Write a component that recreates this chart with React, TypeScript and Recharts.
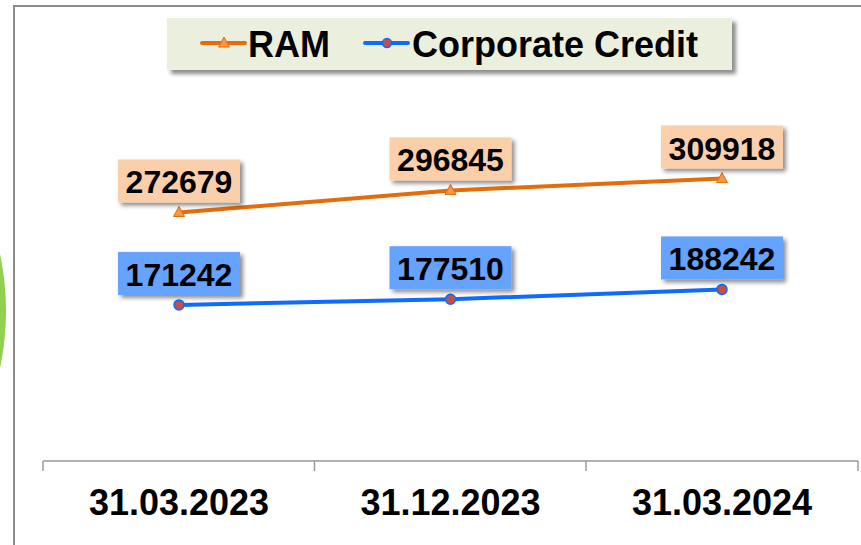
import { LineChart, Line, XAxis, YAxis, LabelList } from "recharts";

const dates = ["31.03.2023", "31.12.2023", "31.03.2024"];
const ramValues = [272679, 296845, 309918];
const corporateValues = [171242, 177510, 188242];
const seriesNames = ["RAM", "Corporate Credit"];

const data = dates.map((d, i) => ({ date: d, ram: ramValues[i], corp: corporateValues[i] }));

const FONT = '"Liberation Sans", Arial, sans-serif';
const ORANGE = "#e46c0a";
const BLUE = "#0f6bff";
const HALF_BAND = 136;

const makeLabel = (fill: string) => (props: any) => {
  const { x, y, value, index } = props;
  return (
    <g key={index}>
      <rect x={x - 61} y={y - 53} width={122} height={43} fill={fill} filter="url(#boxShadow)" />
      <text x={x} y={y - 19} textAnchor="middle" fontSize={32} fontWeight="bold" fontFamily={FONT} fill="#000">
        {value}
      </text>
    </g>
  );
};

const TriangleDot = (props: any) => {
  const { cx, cy, index } = props;
  return (
    <path
      key={index}
      d={`M${cx},${cy - 6} L${cx + 5.5},${cy + 4} L${cx - 5.5},${cy + 4} Z`}
      fill="#f79646"
      stroke={ORANGE}
      strokeWidth={1}
    />
  );
};

const CircleDot = (props: any) => {
  const { cx, cy, index } = props;
  return <circle key={index} cx={cx} cy={cy} r={5} fill="#c0504d" stroke={BLUE} strokeWidth={1.5} />;
};

const DateTick = (props: any) => {
  const { x, y, payload, index } = props;
  const last = index === dates.length - 1;
  return (
    <g>
      <line x1={x - HALF_BAND} y1={y} x2={x - HALF_BAND} y2={y + 10} stroke="#999" strokeWidth={1.5} />
      {last && <line x1={x + HALF_BAND} y1={y} x2={x + HALF_BAND} y2={y + 10} stroke="#999" strokeWidth={1.5} />}
      <text x={x} y={y + 54} textAnchor="middle" fontSize={36} fontWeight="bold" fontFamily={FONT} fill="#000">
        {payload.value}
      </text>
    </g>
  );
};

function LegendBox() {
  return (
    <svg
      width={565}
      height={52}
      style={{
        position: "absolute",
        left: 167,
        top: 18,
        background: "#ebf0de",
        boxShadow: "4px 4px 4px rgba(0,0,0,0.45)",
      }}
    >
      <line x1={35} y1={25} x2={78} y2={25} stroke={ORANGE} strokeWidth={4} strokeLinecap="round" />
      <path d="M57,19 L62.5,29 L51.5,29 Z" fill="#f79646" stroke={ORANGE} strokeWidth={1} />
      <text x={81} y={39} fontSize={36} fontWeight="bold" fontFamily={FONT} fill="#000">
        {seriesNames[0]}
      </text>
      <line x1={198} y1={25} x2={241} y2={25} stroke={BLUE} strokeWidth={4} strokeLinecap="round" />
      <circle cx={220} cy={25} r={4.5} fill="#c0504d" stroke={BLUE} strokeWidth={1.5} />
      <text x={245} y={39} fontSize={36} fontWeight="bold" fontFamily={FONT} fill="#000">
        {seriesNames[1]}
      </text>
    </svg>
  );
}

export default function App() {
  return (
    <div style={{ position: "absolute", left: 0, top: 0, width: 861, height: 545, overflow: "hidden", background: "#fff" }}>
      <div style={{ position: "absolute", left: -542, top: 37, width: 548, height: 548, borderRadius: "50%", background: "#92d050" }} />
      <div
        style={{
          position: "absolute",
          left: 13,
          top: 5,
          width: 900,
          height: 600,
          borderLeft: "2px solid #8c8c8c",
          borderTop: "2px solid #8c8c8c",
          background: "#fff",
        }}
      />
      <div style={{ position: "absolute", left: 0, top: 0 }}>
        <LineChart width={861} height={545} data={data} margin={{ top: 142, right: 3, left: 43, bottom: 24 }}>
          <defs>
            <filter id="boxShadow" x="-20%" y="-20%" width="150%" height="160%">
              <feDropShadow dx={3} dy={3} stdDeviation={2} floodColor="#000" floodOpacity={0.45} />
            </filter>
          </defs>
          <XAxis
            dataKey="date"
            padding={{ left: HALF_BAND, right: HALF_BAND }}
            axisLine={{ stroke: "#999", strokeWidth: 1.5 }}
            tickLine={false}
            tickSize={0}
            tickMargin={0}
            height={60}
            tick={<DateTick />}
            interval={0}
          />
          <YAxis hide domain={[0, 350000]} />
          <Line
            dataKey="ram"
            name={seriesNames[0]}
            stroke={ORANGE}
            strokeWidth={4}
            dot={TriangleDot}
            activeDot={false}
            isAnimationActive={false}
          >
            <LabelList dataKey="ram" content={makeLabel("#fbcfa9")} />
          </Line>
          <Line
            dataKey="corp"
            name={seriesNames[1]}
            stroke={BLUE}
            strokeWidth={4}
            dot={CircleDot}
            activeDot={false}
            isAnimationActive={false}
          >
            <LabelList dataKey="corp" content={makeLabel("#66a3ff")} />
          </Line>
        </LineChart>
      </div>
      <LegendBox />
    </div>
  );
}
